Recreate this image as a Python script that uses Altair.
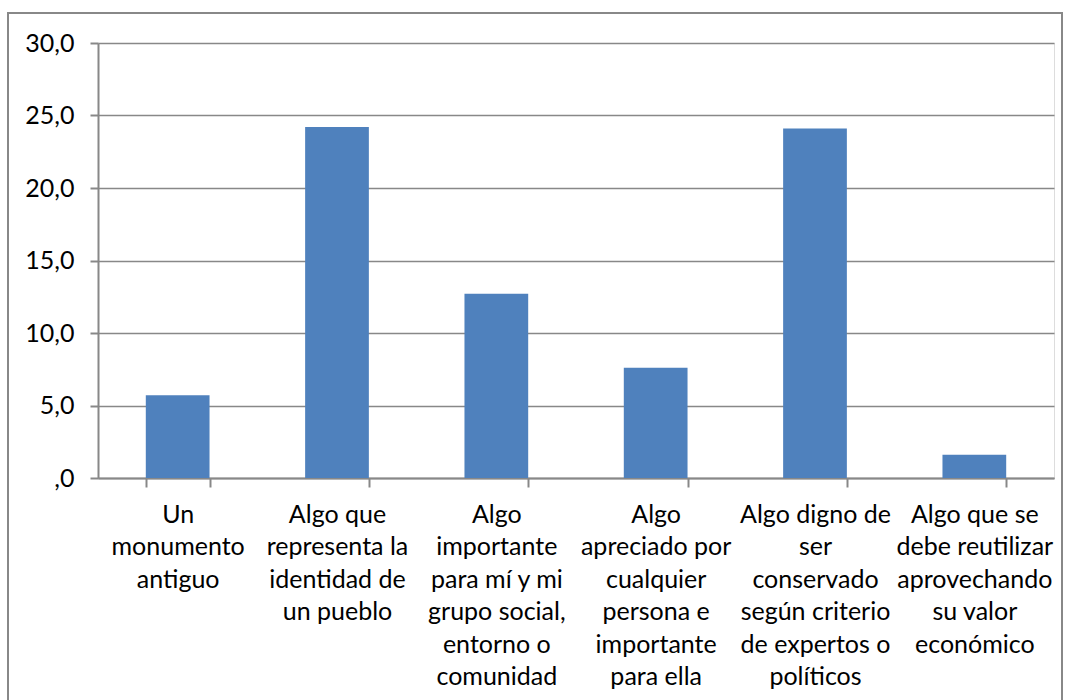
import altair as alt
import pandas as pd

categories = [
    "Un|monumento|antiguo",
    "Algo que|representa la|identidad de|un pueblo",
    "Algo|importante|para mí y mi|grupo social,|entorno o|comunidad",
    "Algo|apreciado por|cualquier|persona e|importante|para ella",
    "Algo digno de|ser|conservado|según criterio|de expertos o|políticos",
    "Algo que se|debe reutilizar|aprovechando|su valor|económico",
]
values = [5.7, 24.2, 12.7, 7.6, 24.1, 1.6]
y_ticks = [0, 5, 10, 15, 20, 25, 30]

df = pd.DataFrame({"cat": categories, "val": values})

FONT = "Lato"
GRAY = "#888888"

bars = alt.Chart(df).mark_bar(color="#4F81BD").encode(
    x=alt.X(
        "cat:N",
        sort=categories,
        title=None,
        scale=alt.Scale(paddingInner=0.6, paddingOuter=0.3),
        axis=alt.Axis(
            labelAngle=0,
            labelExpr="split(datum.label, '|')",
            labelFont=FONT,
            labelFontSize=25,
            labelColor="#000000",
            labelLineHeight=32.5,
            labelPadding=15,
            labelBaseline="top",
            labelLimit=300,
            tickBand="extent",
            tickSize=9,
            tickColor=GRAY,
            tickWidth=2,
            domainColor=GRAY,
            domainWidth=2,
            grid=False,
        ),
    ),
    y=alt.Y(
        "val:Q",
        title=None,
        scale=alt.Scale(domain=[0, 30], nice=False),
        axis=alt.Axis(
            values=y_ticks,
            labelExpr="datum.value == 0 ? ',0' : replace(format(datum.value, '.1f'), '.', ',')",
            labelFont=FONT,
            labelFontSize=25,
            labelColor="#000000",
            labelPadding=16,
            tickSize=8,
            tickColor=GRAY,
            tickWidth=2,
            domainColor=GRAY,
            domainWidth=2,
            grid=True,
            gridColor=GRAY,
            gridWidth=1.5,
        ),
    ),
)

border = alt.Chart(pd.DataFrame({"a": [0]})).mark_rect(
    fill=None, stroke=GRAY, strokeWidth=2
).encode(
    x=alt.value(-90), x2=alt.value(964), y=alt.value(-30), y2=alt.value(720)
)

chart = alt.layer(border, bars).properties(
    width=956,
    height=435,
    autosize=alt.AutoSizeParams(type="none"),
    padding={"left": 98, "top": 43, "right": 16, "bottom": 222},
).configure_view(stroke=None).configure(background="white")

chart.save("out.html", embed_options={"renderer": "svg", "actions": False})
